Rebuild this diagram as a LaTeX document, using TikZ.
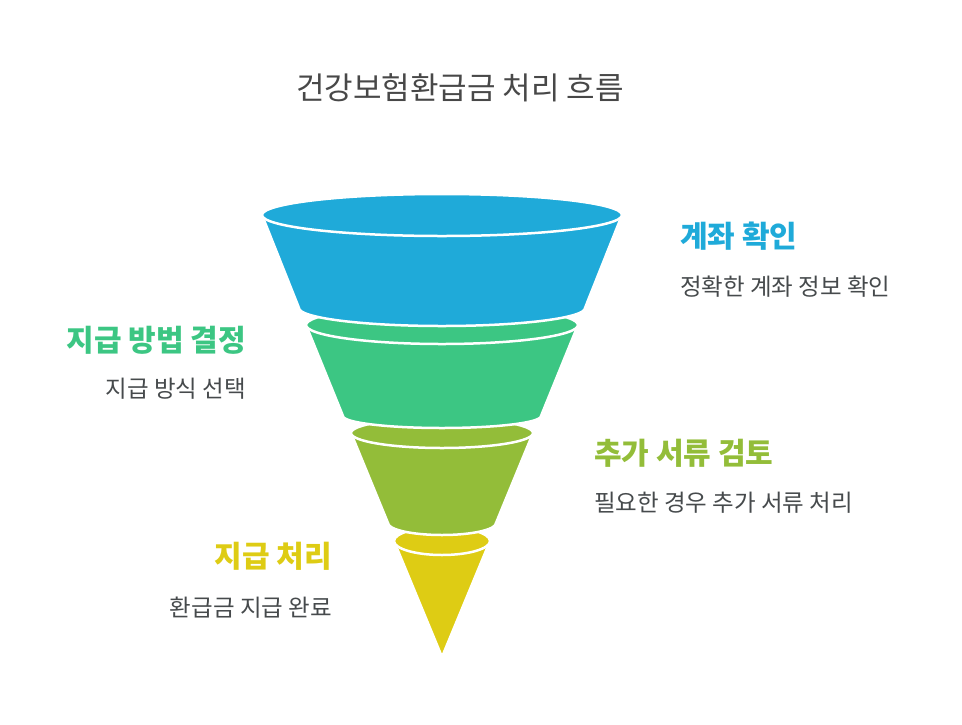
\documentclass[tikz,border=0pt]{standalone}
\usepackage{fontspec}
\setmainfont{Noto Sans CJK KR}
\usepackage{tikz}
\usetikzlibrary{positioning}
\definecolor{FunBlue}{RGB}{31, 170, 217}
\definecolor{FunGreen}{RGB}{60, 198, 131}
\definecolor{FunOlive}{RGB}{147, 189, 57}
\definecolor{FunYellow}{RGB}{222, 204, 20}
\definecolor{TitleGray}{RGB}{72, 72, 72}
\definecolor{DescGray}{RGB}{70, 74, 76}
\tikzset{
  seg/.style={fill=#1, draw=white, line width=2.5pt, line join=round},
  head/.style={font=\fontsize{30}{32}\selectfont\bfseries, text=#1, inner sep=0pt},
  desc/.style={font=\fontsize{23.5}{25}\selectfont, text=DescGray, inner sep=0pt},
}

\begin{document}
\begin{tikzpicture}[x=1pt, y=1pt]
      \useasboundingbox (0,0) rectangle (962,-724);

      % Title
      \node[font=\fontsize{31}{33}\selectfont, text=TitleGray] (title) at (460,-88) {건강보험환급금 처리 흐름};

      % Funnel, bottom to top
      \path[seg=FunYellow] (394,-541) -- (442,-657) -- (490,-541) -- cycle;
      \path[seg=FunYellow] (442,-541) ellipse [x radius=48, y radius=14];

      \path[seg=FunOlive] (351,-433) -- (388,-523)
        arc[start angle=180, end angle=360, x radius=54, y radius=12]
        -- (533,-433) -- cycle;
      \path[seg=FunOlive] (442,-433) ellipse [x radius=91, y radius=15];

      \path[seg=FunGreen] (306,-325) -- (343,-416)
        arc[start angle=180, end angle=360, x radius=99, y radius=12]
        -- (578,-325) -- cycle;
      \path[seg=FunGreen] (442,-325) ellipse [x radius=136, y radius=19];

      \path[seg=FunBlue] (262,-215) -- (299,-308)
        arc[start angle=180, end angle=360, x radius=143, y radius=18]
        -- (622,-215) -- cycle;
      \path[seg=FunBlue] (442,-215) ellipse [x radius=180, y radius=21];

      % Labels
      \node[head=FunBlue, anchor=west] (h1) at (680,-236) {계좌 확인};
      \node[desc, anchor=west] (d1) at (680,-287) {정확한 계좌 정보 확인};

      \node[head=FunGreen, anchor=east] (h2) at (246,-340) {지급 방법 결정};
      \node[desc, anchor=east] (d2) at (246,-389) {지급 방식 선택};

      \node[head=FunOlive, anchor=west] (h3) at (594,-453) {추가 서류 검토};
      \node[desc, anchor=west] (d3) at (594,-503) {필요한 경우 추가 서류 처리};

      \node[head=FunYellow, anchor=east] (h4) at (332,-556) {지급 처리};
      \node[desc, anchor=east] (d4) at (332,-608) {환급금 지급 완료};
    \end{tikzpicture}
\end{document}
